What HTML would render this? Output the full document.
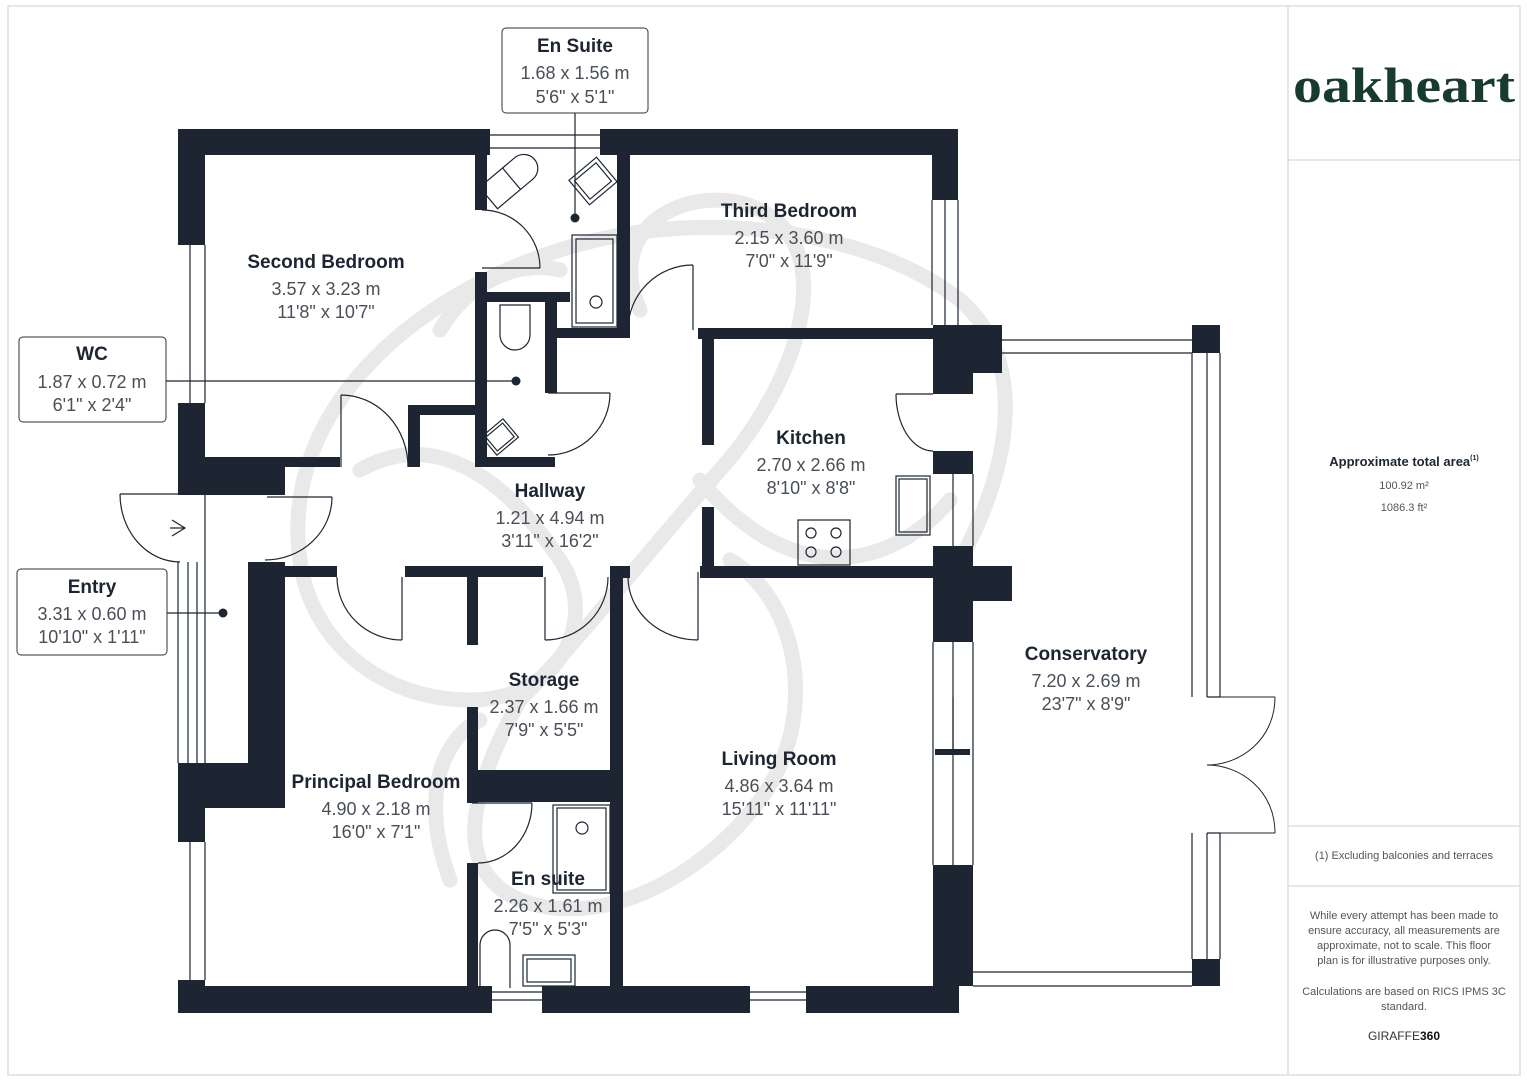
<!DOCTYPE html>
<html><head><meta charset="utf-8"><style>
html,body{margin:0;padding:0;background:#fff;}
svg{display:block;font-family:"Liberation Sans",sans-serif;}
.w{fill:#1c2531;}
.l{fill:none;stroke:#1c2531;stroke-width:1.2;}
.wm{fill:none;stroke:#e9e9e9;stroke-width:15;stroke-linecap:round;}
.n{font-weight:bold;font-size:19px;fill:#1c2531;text-anchor:middle;}
.d{font-size:18px;fill:#4a4f57;text-anchor:middle;}
.p{font-size:11px;fill:#555;text-anchor:middle;}
</style></head><body>
<svg width="1527" height="1080" viewBox="0 0 1527 1080">
<rect x="8" y="6" width="1512" height="1069" fill="none" stroke="#ddd" stroke-width="1.5"/>
<line x1="1288" y1="6" x2="1288" y2="1075" stroke="#ddd" stroke-width="1.5"/>
<line x1="1288" y1="160" x2="1520" y2="160" stroke="#ddd" stroke-width="1.5"/>
<line x1="1288" y1="826" x2="1520" y2="826" stroke="#ddd" stroke-width="1.5"/>
<line x1="1288" y1="886" x2="1520" y2="886" stroke="#ddd" stroke-width="1.5"/>

<!-- watermark -->
<path class="wm" d="M300,560 C280,420 400,300 560,250 C700,205 870,230 960,300 C1030,360 1010,470 960,560"/>
<path class="wm" d="M300,560 C310,640 380,700 470,700 C560,700 600,620 560,560"/>
<path class="wm" d="M640,310 C600,220 700,180 760,210 C840,250 800,380 720,470 C640,560 580,640 520,700"/>
<path class="wm" d="M560,560 C500,470 430,430 360,470"/>
<path class="wm" d="M700,480 C800,600 900,560 950,500"/>
<path class="wm" d="M520,700 C470,790 450,870 520,900 C600,930 700,880 760,800 C820,720 800,600 730,560"/>
<path class="wm" d="M450,880 C420,800 440,740 480,720"/>
<path class="wm" d="M440,330 C470,280 520,260 560,270"/>

<!-- walls -->
<rect class="w" x="178" y="129" width="312" height="26"/>
<rect class="w" x="600" y="129" width="358" height="26"/>
<rect class="w" x="178" y="129" width="27" height="116"/>
<rect class="w" x="178" y="403" width="27" height="90"/>
<rect class="w" x="178" y="457" width="107" height="38"/>
<rect class="w" x="285" y="457" width="55" height="10"/>
<rect class="w" x="475" y="153" width="12" height="57"/>
<rect class="w" x="475" y="272" width="12" height="195"/>
<rect class="w" x="487" y="292" width="83" height="10"/>
<rect class="w" x="545" y="292" width="12" height="101"/>
<rect class="w" x="555" y="328" width="75" height="10"/>
<rect class="w" x="617" y="153" width="13" height="185"/>
<rect class="w" x="475" y="457" width="80" height="10"/>
<rect class="w" x="408" y="405" width="79" height="10"/>
<rect class="w" x="408" y="405" width="12" height="62"/>
<rect class="w" x="932" y="129" width="26" height="71"/>
<rect class="w" x="698" y="328" width="235" height="11"/>
<rect class="w" x="702" y="339" width="12" height="106"/>
<rect class="w" x="702" y="507" width="12" height="59"/>
<rect class="w" x="933" y="325" width="69" height="48"/>
<rect class="w" x="933" y="325" width="40" height="69"/>
<rect class="w" x="933" y="451" width="40" height="23"/>
<rect class="w" x="933" y="546" width="40" height="96"/>
<rect class="w" x="973" y="566" width="39" height="35"/>
<rect class="w" x="700" y="566" width="233" height="12"/>
<rect class="w" x="610" y="566" width="13" height="420"/>
<rect class="w" x="610" y="566" width="20" height="12"/>
<rect class="w" x="933" y="865" width="40" height="121"/>
<rect class="w" x="933" y="960" width="26" height="53"/>
<rect class="w" x="248" y="562" width="37" height="246"/>
<rect class="w" x="285" y="566" width="52" height="11"/>
<rect class="w" x="405" y="566" width="138" height="11"/>
<rect class="w" x="467" y="577" width="11" height="68"/>
<rect class="w" x="467" y="707" width="11" height="96"/>
<rect class="w" x="467" y="770" width="156" height="32"/>
<rect class="w" x="467" y="863" width="11" height="124"/>
<rect class="w" x="178" y="763" width="107" height="45"/>
<rect class="w" x="178" y="763" width="27" height="79"/>
<rect class="w" x="178" y="980" width="27" height="33"/>
<rect class="w" x="178" y="986" width="314" height="27"/>
<rect class="w" x="542" y="986" width="208" height="27"/>
<rect class="w" x="806" y="986" width="153" height="27"/>
<rect class="w" x="1192" y="325" width="28" height="28"/>
<rect class="w" x="1192" y="959" width="28" height="27"/>

<!-- windows -->
<g class="l">
<path d="M490,135 H600 M490,148 H600"/>
<path d="M190,245 V403 M205,245 V403"/>
<path d="M190,842 V980 M205,842 V980"/>
<path d="M178,562 V763 M188,562 V763 M197,562 V763 M205,492 V763"/>
<path d="M932,200 V325 M945,200 V325 M958,200 V325"/>
<path d="M953,474 V546 M973,474 V546"/>
<path d="M933,642 V865 M953,642 V865 M973,642 V865"/>
<path d="M953,697 V752"/>
<path d="M492,992 H542 M492,1000 H542"/>
<path d="M750,992 H806 M750,1000 H806"/>
<path d="M973,340 H1192 M973,353 H1192"/>
<path d="M973,972 H1192 M973,986 H1192"/>
<path d="M1192,353 V697 M1207,353 V697 M1220,353 V697 M1207,697 H1220"/>
<path d="M1192,833 V959 M1207,833 V959 M1220,833 V959 M1207,833 H1220"/>
</g>
<rect class="w" x="935" y="749" width="35" height="6"/>

<!-- doors -->
<g class="l">
<path d="M120,494 H188 M120,494 A60,68 0 0 0 180,562"/>
<path d="M172,520 L185,528 L172,536 M170,528 H185"/>
<path d="M267,497 H332 M332,497 A67,63 0 0 1 265,560"/>
<path d="M341,395 V467 M341,395 A67,72 0 0 1 408,467"/>
<path d="M548,393 H610 M610,393 A62,62 0 0 1 548,455"/>
<path d="M482,268 H540 M540,268 A58,58 0 0 0 482,210"/>
<path d="M693,265 V330 M693,265 A65,65 0 0 0 628,330"/>
<path d="M896,394 H933 M896,394 A37,57 0 0 0 933,451"/>
<path d="M402,577 V640 M402,640 A65,63 0 0 1 337,577"/>
<path d="M545,577 V640 M545,640 A63,63 0 0 0 608,577"/>
<path d="M698,572 V640 M698,640 A70,63 0 0 1 628,577"/>
<path d="M472,803 H532 M532,803 A54,60 0 0 1 478,863"/>
<path d="M1207,697 H1220 M1275,697 C1275,740 1240,765 1207,765 M1275,833 C1275,790 1240,765 1207,765 M1220,697 L1275,697 M1220,833 L1275,833" stroke-width="1"/>
</g>

<!-- fixtures -->
<g class="l">
<rect x="572" y="235" width="45" height="92"/><rect x="576" y="239" width="37" height="84"/>
<circle cx="596" cy="302" r="6"/>
<g transform="translate(510,180) rotate(-40)"><rect x="-28" y="-14" width="30" height="28"/><path d="M2,-14 H18 A14,14 0 0 1 18,14 H2"/></g>
<g transform="translate(593,181) rotate(-40)"><rect x="-18" y="-16" width="36" height="32"/><rect x="-14" y="-12" width="28" height="24"/></g>
<path d="M500,305 H530 V335 A15,15 0 0 1 500,335 Z"/>
<g transform="translate(500,437) rotate(-40)"><rect x="-14" y="-12" width="28" height="24"/><rect x="-11" y="-9" width="22" height="18"/></g>
<rect x="553" y="805" width="57" height="88"/><rect x="557" y="808" width="49" height="82"/>
<circle cx="582" cy="828" r="6"/>
<path d="M480,988 V945 A15,15 0 0 1 510,945 V988"/>
<rect x="523" y="955" width="52" height="31"/><rect x="527" y="959" width="44" height="23"/>
<rect x="798" y="520" width="52" height="45"/>
<circle cx="811" cy="533" r="5"/><circle cx="836" cy="533" r="5"/><circle cx="811" cy="552" r="5"/><circle cx="836" cy="552" r="5"/>
<rect x="896" y="476" width="34" height="59"/><rect x="899" y="479" width="28" height="53"/>
</g>

<!-- callouts -->
<g>
<line x1="575" y1="113" x2="575" y2="218" stroke="#1c2531" stroke-width="1.2"/>
<circle cx="575" cy="218" r="4.5" fill="#1c2531"/>
<rect x="502" y="28" width="146" height="85" rx="4" fill="#fff" stroke="#333" stroke-width="1"/>
<text class="n" x="575" y="52">En Suite</text>
<text class="d" x="575" y="79">1.68 x 1.56 m</text>
<text class="d" x="575" y="103">5'6" x 5'1"</text>
<line x1="166" y1="381" x2="516" y2="381" stroke="#1c2531" stroke-width="1.2"/>
<circle cx="516" cy="381" r="4.5" fill="#1c2531"/>
<rect x="19" y="337" width="147" height="85" rx="4" fill="#fff" stroke="#333" stroke-width="1"/>
<text class="n" x="92" y="360">WC</text>
<text class="d" x="92" y="388">1.87 x 0.72 m</text>
<text class="d" x="92" y="411">6'1" x 2'4"</text>
<line x1="167" y1="613" x2="223" y2="613" stroke="#1c2531" stroke-width="1.2"/>
<circle cx="223" cy="613" r="4.5" fill="#1c2531"/>
<rect x="17" y="569" width="150" height="86" rx="4" fill="#fff" stroke="#333" stroke-width="1"/>
<text class="n" x="92" y="593">Entry</text>
<text class="d" x="92" y="620">3.31 x 0.60 m</text>
<text class="d" x="92" y="643">10'10" x 1'11"</text>
</g>

<!-- room labels -->
<text class="n" x="326" y="268">Second Bedroom</text>
<text class="d" x="326" y="295">3.57 x 3.23 m</text>
<text class="d" x="326" y="318">11'8" x 10'7"</text>
<text class="n" x="789" y="217">Third Bedroom</text>
<text class="d" x="789" y="244">2.15 x 3.60 m</text>
<text class="d" x="789" y="267">7'0" x 11'9"</text>
<text class="n" x="811" y="444">Kitchen</text>
<text class="d" x="811" y="471">2.70 x 2.66 m</text>
<text class="d" x="811" y="494">8'10" x 8'8"</text>
<text class="n" x="550" y="497">Hallway</text>
<text class="d" x="550" y="524">1.21 x 4.94 m</text>
<text class="d" x="550" y="547">3'11" x 16'2"</text>
<text class="n" x="544" y="686">Storage</text>
<text class="d" x="544" y="713">2.37 x 1.66 m</text>
<text class="d" x="544" y="736">7'9" x 5'5"</text>
<text class="n" x="376" y="788">Principal Bedroom</text>
<text class="d" x="376" y="815">4.90 x 2.18 m</text>
<text class="d" x="376" y="838">16'0" x 7'1"</text>
<text class="n" x="548" y="885">En suite</text>
<text class="d" x="548" y="912">2.26 x 1.61 m</text>
<text class="d" x="548" y="935">7'5" x 5'3"</text>
<text class="n" x="779" y="765">Living Room</text>
<text class="d" x="779" y="792">4.86 x 3.64 m</text>
<text class="d" x="779" y="815">15'11" x 11'11"</text>
<text class="n" x="1086" y="660">Conservatory</text>
<text class="d" x="1086" y="687">7.20 x 2.69 m</text>
<text class="d" x="1086" y="710">23'7" x 8'9"</text>

<!-- right panel -->
<text x="1404" y="102" text-anchor="middle" font-family="Liberation Serif,serif" font-weight="bold" font-size="50" fill="#173a31" textLength="222" lengthAdjust="spacingAndGlyphs">oakheart</text>
<text x="1404" y="466" text-anchor="middle" font-weight="bold" font-size="13" fill="#1c2531">Approximate total area<tspan font-size="7" dy="-6">(1)</tspan></text>
<text class="p" x="1404" y="489" font-size="12">100.92 m²</text>
<text class="p" x="1404" y="511" font-size="12">1086.3 ft²</text>
<text class="p" x="1404" y="859">(1) Excluding balconies and terraces</text>
<text class="p" x="1404" y="919">While every attempt has been made to</text>
<text class="p" x="1404" y="934">ensure accuracy, all measurements are</text>
<text class="p" x="1404" y="949">approximate, not to scale. This floor</text>
<text class="p" x="1404" y="964">plan is for illustrative purposes only.</text>
<text class="p" x="1404" y="995">Calculations are based on RICS IPMS 3C</text>
<text class="p" x="1404" y="1010">standard.</text>
<text x="1404" y="1040" text-anchor="middle" font-size="12" fill="#333">GIRAFFE<tspan font-weight="bold" fill="#111">360</tspan></text>
</svg>
</body></html>
